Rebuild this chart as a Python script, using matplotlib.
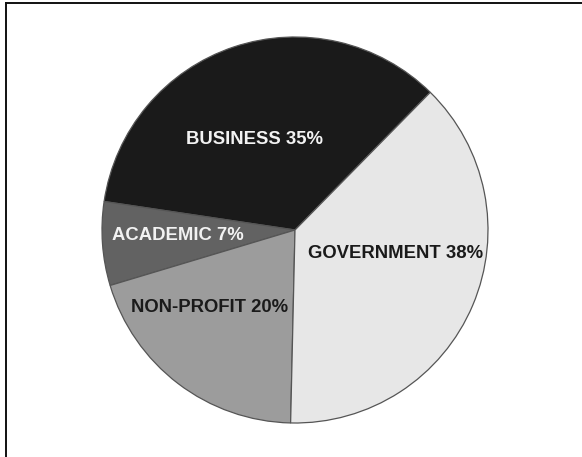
import matplotlib
matplotlib.use("Agg")
import matplotlib.pyplot as plt
from matplotlib.lines import Line2D

# Share of respondents by sector
sectors = ["BUSINESS", "ACADEMIC", "NON-PROFIT", "GOVERNMENT"]
shares = [35, 7, 20, 38]

fill_colors = ["#1a1a1a", "#626262", "#9c9c9c", "#e7e7e7"]
text_colors = ["#f2f2f2", "#f2f2f2", "#1a1a1a", "#1a1a1a"]
label_xy = [(255, 318), (178, 221), (210, 149), (396, 203)]

W, H = 582, 457
fig = plt.figure(figsize=(W / 100, H / 100), dpi=100)
ax = fig.add_axes([0, 0, 1, 1])
ax.set_xlim(0, W)
ax.set_ylim(0, H)
ax.set_aspect("equal")
ax.axis("off")

wedges, _ = ax.pie(
    shares,
    colors=fill_colors,
    startangle=45.5,
    counterclock=True,
    center=(295, 227),
    radius=193,
    frame=True,
    wedgeprops=dict(edgecolor="#555555", linewidth=0.9),
)
ax.set_xlim(0, W)
ax.set_ylim(0, H)
ax.axis("off")

for name, val, (x, y), tc in zip(sectors, shares, label_xy, text_colors):
    ax.text(x, y, f"{name} {val}%", ha="center", va="center",
            fontsize=13.3, fontweight="bold", color=tc,
            family="Liberation Sans")

# Top and left border lines
fig.add_artist(Line2D([6 / W, 1], [1 - 3 / H, 1 - 3 / H], color="#111111",
                      linewidth=1.4, transform=fig.transFigure))
fig.add_artist(Line2D([6 / W, 6 / W], [0, 1 - 3 / H], color="#111111",
                      linewidth=1.4, transform=fig.transFigure))

fig.savefig("out.png", dpi=100)
